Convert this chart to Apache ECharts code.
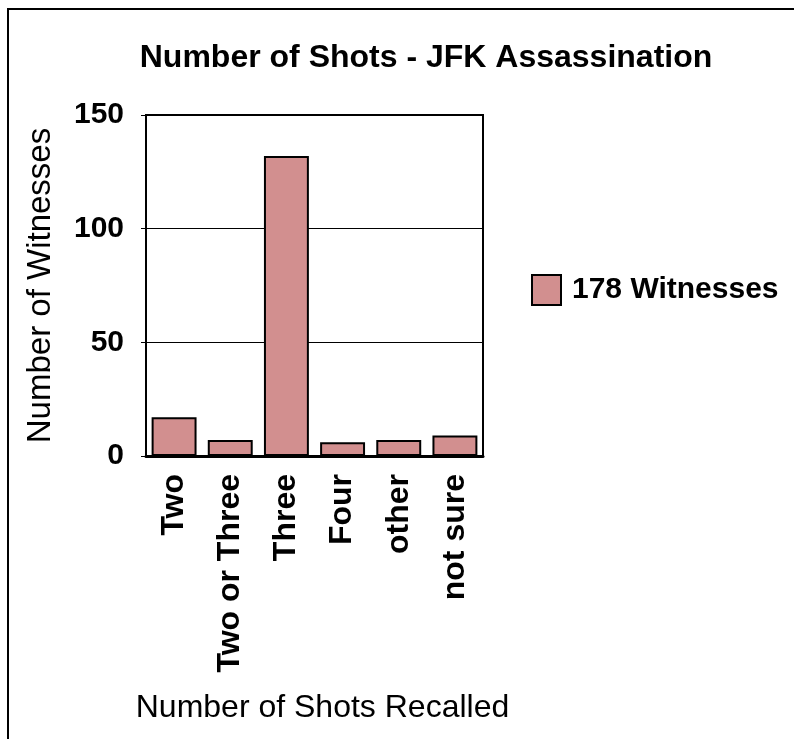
<!DOCTYPE html>
<html>
<head>
<meta charset="utf-8">
<script src="https://cdn.jsdelivr.net/npm/echarts@6/dist/echarts.min.js"></script>
<style>
  html, body { margin: 0; padding: 0; background: #fff; }
  #chart { width: 794px; height: 739px; }
</style>
</head>
<body>
<div id="chart"></div>
<script>
var categories = ['Two', 'Two or Three', 'Three', 'Four', 'other', 'not sure'];
var witnesses = [17, 7, 132, 6, 7, 9];
var yTicks = [0, 50, 100, 150];
var seriesName = '178 Witnesses';

var font = 'Arial, "Liberation Sans", sans-serif';
var myChart = echarts.init(document.getElementById('chart'));

var option = {
  backgroundColor: '#fff',
  animation: false,
  textStyle: { fontFamily: font, color: '#000' },
  graphic: [
    {
      // outer frame, only left and top edges are inside the picture
      type: 'rect',
      shape: { x: 8, y: 9, width: 820, height: 760 },
      style: { fill: 'none', stroke: '#000', lineWidth: 2 },
      silent: true
    }
  ],
  title: {
    text: 'Number of Shots - JFK Assassination',
    left: 421,
    top: 37,
    textAlign: 'center',
    textStyle: { fontFamily: font, fontSize: 32, fontWeight: 'bold', color: '#000' }
  },
  legend: {
    left: 526,
    top: 269,
    itemWidth: 29,
    itemHeight: 30,
    icon: 'rect',
    data: [seriesName],
    textStyle: { fontFamily: font, fontSize: 30, fontWeight: 'bold', color: '#000', padding: [0, 0, 0, 6] }
  },
  grid: {
    left: 146,
    top: 115,
    right: 311,
    bottom: 283,
    show: true,
    borderColor: '#000',
    borderWidth: 2
  },
  xAxis: {
    type: 'category',
    data: categories,
    name: 'Number of Shots Recalled',
    nameLocation: 'middle',
    nameGap: 236,
    nameTextStyle: { fontFamily: font, fontSize: 32, color: '#000', padding: [0, 0, 0, 16] },
    axisLine: { lineStyle: { color: '#000', width: 3 } },
    axisTick: { show: false },
    axisLabel: {
      rotate: 90,
      margin: 18,
      interval: 0,
      fontFamily: font,
      fontSize: 32,
      fontWeight: 'bold',
      color: '#000'
    }
  },
  yAxis: {
    type: 'value',
    min: yTicks[0],
    max: yTicks[yTicks.length - 1],
    interval: yTicks[1] - yTicks[0],
    name: 'Number of Witnesses',
    nameLocation: 'middle',
    nameGap: 89,
    nameTextStyle: { fontFamily: font, fontSize: 33, color: '#000' },
    axisLine: { show: true, lineStyle: { color: '#000', width: 2 } },
    axisTick: { show: true, length: 5, lineStyle: { color: '#000', width: 1 } },
    splitLine: { show: true, lineStyle: { color: '#000', width: 1 } },
    axisLabel: {
      margin: 22,
      fontFamily: font,
      fontSize: 30,
      fontWeight: 'bold',
      color: '#000'
    }
  },
  series: [
    {
      name: seriesName,
      type: 'bar',
      data: witnesses,
      barWidth: '80%',
      itemStyle: { color: '#d28f8f', borderColor: '#000', borderWidth: 2 }
    }
  ]
};

myChart.setOption(option);
</script>
</body>
</html>
